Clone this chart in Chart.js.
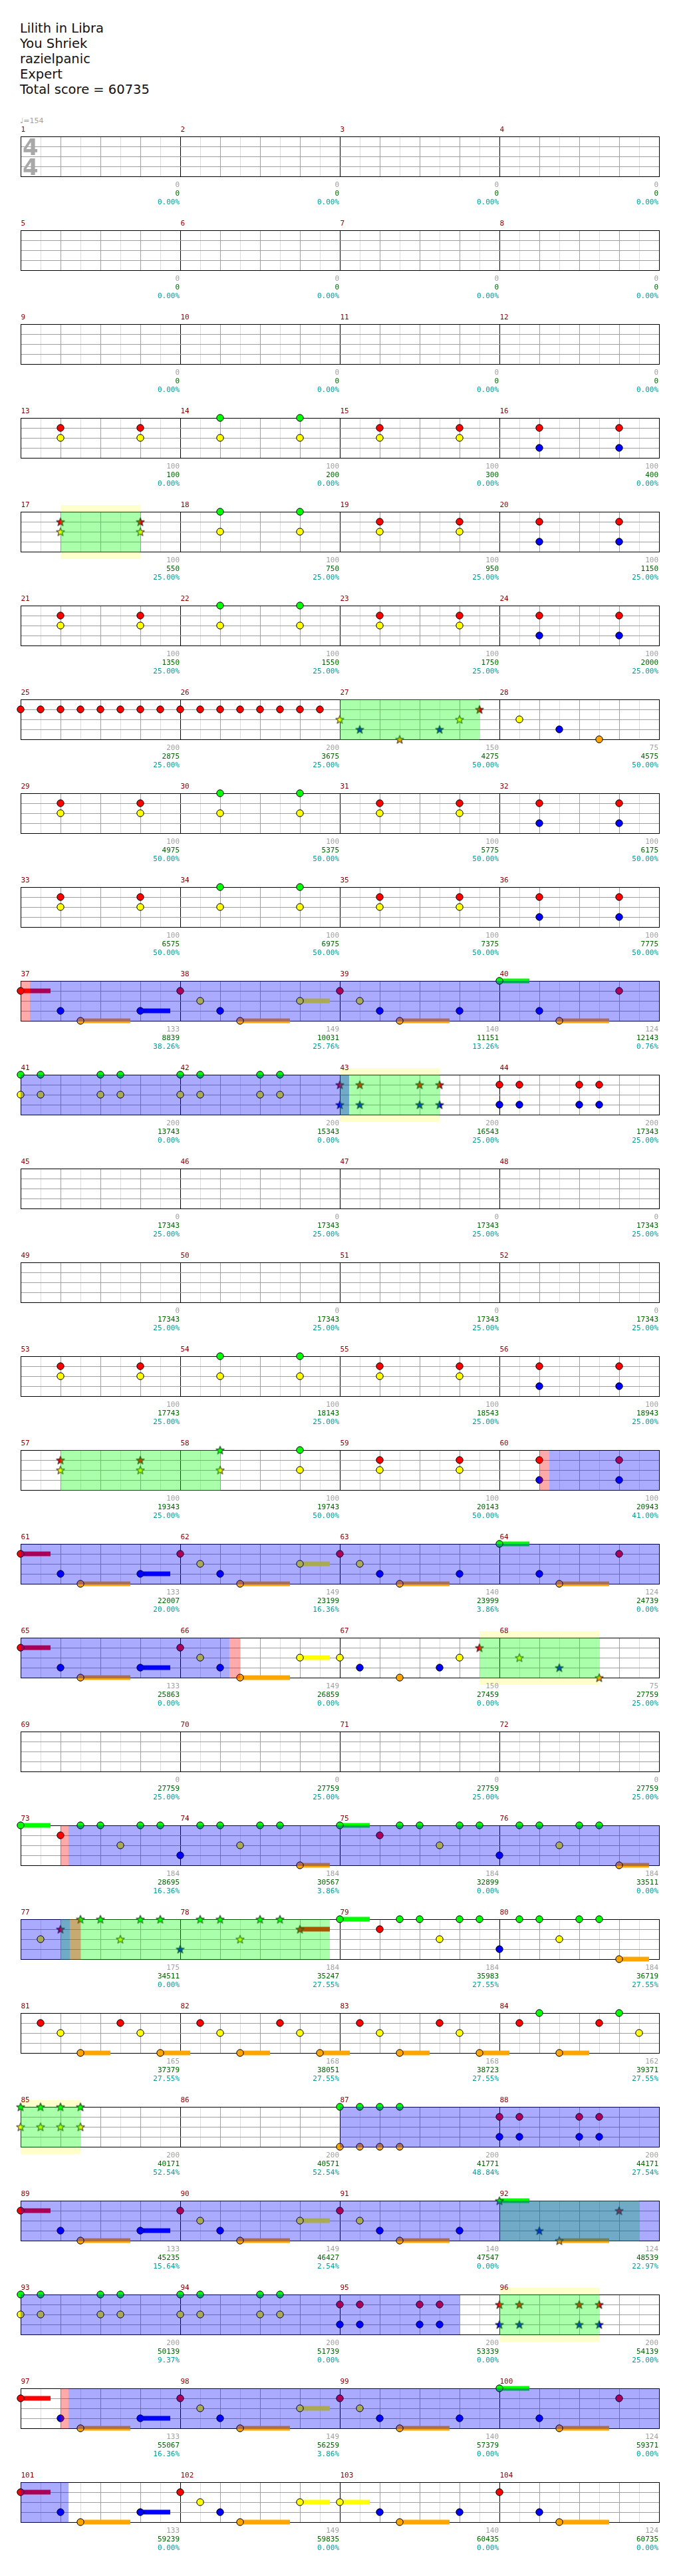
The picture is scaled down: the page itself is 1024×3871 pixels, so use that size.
<!DOCTYPE html>
<html>
<head>
<meta charset="utf-8">
<script src="https://cdn.jsdelivr.net/npm/chart.js@4.4.0/dist/chart.umd.min.js"></script>
<style>
  body { margin: 0; background: #fff; }
  #page { position: relative; width: 1024px; height: 3871px; overflow: hidden; }
  .title { position: absolute; left: 30px; top: 31px; font: 19.5px "DejaVu Sans", sans-serif; line-height: 23px; color: #111; white-space: pre; }
  .tempo { position: absolute; left: 30px; top: 175px; font: 11px "DejaVu Sans", sans-serif; color: #a0a0a0; }
  canvas.row { position: absolute; left: 0; }
</style>
</head>
<body>
<div id="page">
  <div class="title" id="title"></div>
  <div class="tempo">&#9833;=154</div>
</div>
<script>
const songInfo = ["Lilith in Libra", "You Shriek", "razielpanic", "Expert", "Total score = 60735"];

// chords: [measure, beat in measure, lanes, sustain length in beats]
const notes = [
  [13,1,"RY"],[13,3,"RY"],[14,1,"GY"],[14,3,"GY"],[15,1,"RY"],[15,3,"RY"],[16,1,"RB"],[16,3,"RB"],
  [17,1,"RY"],[17,3,"RY"],[18,1,"GY"],[18,3,"GY"],[19,1,"RY"],[19,3,"RY"],[20,1,"RB"],[20,3,"RB"],
  [21,1,"RY"],[21,3,"RY"],[22,1,"GY"],[22,3,"GY"],[23,1,"RY"],[23,3,"RY"],[24,1,"RB"],[24,3,"RB"],
  [25,0,"R"],[25,0.5,"R"],[25,1,"R"],[25,1.5,"R"],[25,2,"R"],[25,2.5,"R"],[25,3,"R"],[25,3.5,"R"],
  [26,0,"R"],[26,0.5,"R"],[26,1,"R"],[26,1.5,"R"],[26,2,"R"],[26,2.5,"R"],[26,3,"R"],[26,3.5,"R"],
  [27,0,"Y"],[27,0.5,"B"],[27,1.5,"O"],[27,2.5,"B"],[27,3,"Y"],[27,3.5,"R"],
  [28,0.5,"Y"],[28,1.5,"B"],[28,2.5,"O"],
  [29,1,"RY"],[29,3,"RY"],[30,1,"GY"],[30,3,"GY"],[31,1,"RY"],[31,3,"RY"],[32,1,"RB"],[32,3,"RB"],
  [33,1,"RY"],[33,3,"RY"],[34,1,"GY"],[34,3,"GY"],[35,1,"RY"],[35,3,"RY"],[36,1,"RB"],[36,3,"RB"],
  [37,0,"R",0.75],[37,1,"B"],[37,1.5,"O",1.25],[37,3,"B",0.75],
  [38,0,"R"],[38,0.5,"Y"],[38,1,"B"],[38,1.5,"O",1.25],[38,3,"Y",0.75],
  [39,0,"R"],[39,0.5,"Y"],[39,1,"B"],[39,1.5,"O",1.25],[39,3,"B"],
  [40,0,"G",0.75],[40,1,"B"],[40,1.5,"O",1.25],[40,3,"R"],
  [41,0,"GY"],[41,0.5,"GY"],[41,2,"GY"],[41,2.5,"GY"],[42,0,"GY"],[42,0.5,"GY"],[42,2,"GY"],[42,2.5,"GY"],
  [43,0,"RB"],[43,0.5,"RB"],[43,2,"RB"],[43,2.5,"RB"],[44,0,"RB"],[44,0.5,"RB"],[44,2,"RB"],[44,2.5,"RB"],
  [53,1,"RY"],[53,3,"RY"],[54,1,"GY"],[54,3,"GY"],[55,1,"RY"],[55,3,"RY"],[56,1,"RB"],[56,3,"RB"],
  [57,1,"RY"],[57,3,"RY"],[58,1,"GY"],[58,3,"GY"],[59,1,"RY"],[59,3,"RY"],[60,1,"RB"],[60,3,"RB"],
  [61,0,"R",0.75],[61,1,"B"],[61,1.5,"O",1.25],[61,3,"B",0.75],
  [62,0,"R"],[62,0.5,"Y"],[62,1,"B"],[62,1.5,"O",1.25],[62,3,"Y",0.75],
  [63,0,"R"],[63,0.5,"Y"],[63,1,"B"],[63,1.5,"O",1.25],[63,3,"B"],
  [64,0,"G",0.75],[64,1,"B"],[64,1.5,"O",1.25],[64,3,"R"],
  [65,0,"R",0.75],[65,1,"B"],[65,1.5,"O",1.25],[65,3,"B",0.75],
  [66,0,"R"],[66,0.5,"Y"],[66,1,"B"],[66,1.5,"O",1.25],[66,3,"Y",0.75],
  [67,0,"Y"],[67,0.5,"B"],[67,1.5,"O"],[67,2.5,"B"],[67,3,"Y"],[67,3.5,"R"],
  [68,0.5,"Y"],[68,1.5,"B"],[68,2.5,"O"],
  [73,0,"G",0.75],[73,1,"R"],[73,1.5,"G"],[73,2,"G"],[73,2.5,"Y"],[73,3,"G"],[73,3.5,"G"],
  [74,0,"B"],[74,0.5,"G"],[74,1,"G"],[74,1.5,"Y"],[74,2,"G"],[74,2.5,"G"],[74,3,"O",0.75],
  [75,0,"G",0.75],[75,1,"R"],[75,1.5,"G"],[75,2,"G"],[75,2.5,"Y"],[75,3,"G"],[75,3.5,"G"],
  [76,0,"B"],[76,0.5,"G"],[76,1,"G"],[76,1.5,"Y"],[76,2,"G"],[76,2.5,"G"],[76,3,"O",0.75],
  [77,0.5,"Y"],[77,1,"R"],[77,1.5,"G"],[77,2,"G"],[77,2.5,"Y"],[77,3,"G"],[77,3.5,"G"],
  [78,0,"B"],[78,0.5,"G"],[78,1,"G"],[78,1.5,"Y"],[78,2,"G"],[78,2.5,"G"],[78,3,"R",0.75],
  [79,0,"G",0.75],[79,1,"R"],[79,1.5,"G"],[79,2,"G"],[79,2.5,"Y"],[79,3,"G"],[79,3.5,"G"],
  [80,0,"B"],[80,0.5,"G"],[80,1,"G"],[80,1.5,"Y"],[80,2,"G"],[80,2.5,"G"],[80,3,"O",0.75],
  [81,0.5,"R"],[81,1,"Y"],[81,1.5,"O",0.75],[81,2.5,"R"],[81,3,"Y"],[81,3.5,"O",0.75],
  [82,0.5,"R"],[82,1,"Y"],[82,1.5,"O",0.75],[82,2.5,"R"],[82,3,"Y"],[82,3.5,"O",0.75],
  [83,0.5,"R"],[83,1,"Y"],[83,1.5,"O",0.75],[83,2.5,"R"],[83,3,"Y"],[83,3.5,"O",0.75],
  [84,0.5,"R"],[84,1,"G"],[84,1.5,"O",0.75],[84,2.5,"R"],[84,3,"G"],[84,3.5,"Y"],
  [85,0,"GY"],[85,0.5,"GY"],[85,1,"GY"],[85,1.5,"GY"],
  [87,0,"GO"],[87,0.5,"GO"],[87,1,"GO"],[87,1.5,"GO"],[88,0,"RB"],[88,0.5,"RB"],[88,2,"RB"],[88,2.5,"RB"],
  [89,0,"R",0.75],[89,1,"B"],[89,1.5,"O",1.25],[89,3,"B",0.75],
  [90,0,"R"],[90,0.5,"Y"],[90,1,"B"],[90,1.5,"O",1.25],[90,3,"Y",0.75],
  [91,0,"R"],[91,0.5,"Y"],[91,1,"B"],[91,1.5,"O",1.25],[91,3,"B"],
  [92,0,"G",0.75],[92,1,"B"],[92,1.5,"O",1.25],[92,3,"R"],
  [93,0,"GY"],[93,0.5,"GY"],[93,2,"GY"],[93,2.5,"GY"],[94,0,"GY"],[94,0.5,"GY"],[94,2,"GY"],[94,2.5,"GY"],
  [95,0,"RB"],[95,0.5,"RB"],[95,2,"RB"],[95,2.5,"RB"],[96,0,"RB"],[96,0.5,"RB"],[96,2,"RB"],[96,2.5,"RB"],
  [97,0,"R",0.75],[97,1,"B"],[97,1.5,"O",1.25],[97,3,"B",0.75],
  [98,0,"R"],[98,0.5,"Y"],[98,1,"B"],[98,1.5,"O",1.25],[98,3,"Y",0.75],
  [99,0,"R"],[99,0.5,"Y"],[99,1,"B"],[99,1.5,"O",1.25],[99,3,"B"],
  [100,0,"G",0.75],[100,1,"B"],[100,1.5,"O",1.25],[100,3,"R"],
  [101,0,"R",0.75],[101,1,"B"],[101,1.5,"O",1.25],[101,3,"B",0.75],
  [102,0,"R"],[102,0.5,"Y"],[102,1,"B"],[102,1.5,"O",1.25],[102,3,"Y",0.75],
  [103,0,"Y",0.75],[103,1,"B"],[103,1.5,"O",1.25],[103,3,"B"],
  [104,0,"R"],[104,1,"B"],[104,1.5,"O",1.25]
];

// ranges: [start measure, start beat, end measure, end beat]
const starPhrases = [[17,1,17,3],[27,0,27,3.5],[43,0,43,2.5],[57,1,58,1],[67,3.5,68,2.5],[77,1,78,3.75],[85,0,85,1.5],[92,0,92,3.5],[96,0,96,2.5]];
const soloRanges = [[17,1,17,3],[43,0,43,2.5],[67,3.5,68,2.5],[85,0,85,1.5],[96,0,96,2.5]];
const activations = [[37,0.233,43,0.233],[60,1.25,66,1.233],[73,1.2,77,1.233],[87,0,95,3],[97,1.2,101,1.2]];
const squeezes = [[37,0,37,0.233],[60,1,60,1.25],[66,1.233,66,1.5],[73,1,73,1.2],[77,1.233,77,1.5],[97,1,97,1.2]];

const measureScores = [
  0,0,0,0, 0,0,0,0, 0,0,0,0,
  100,100,100,100, 100,100,100,100, 100,100,100,100, 200,200,150,75,
  100,100,100,100, 100,100,100,100, 133,149,140,124, 200,200,200,200,
  0,0,0,0, 0,0,0,0, 100,100,100,100, 100,100,100,100,
  133,149,140,124, 133,149,150,75, 0,0,0,0, 184,184,184,184,
  175,184,184,184, 165,168,168,162, 200,200,200,200, 133,149,140,124,
  200,200,200,200, 133,149,140,124, 133,149,140,124
];
const totalScores = [
  0,0,0,0, 0,0,0,0, 0,0,0,0,
  100,200,300,400, 550,750,950,1150, 1350,1550,1750,2000, 2875,3675,4275,4575,
  4975,5375,5775,6175, 6575,6975,7375,7775, 8839,10031,11151,12143, 13743,15343,16543,17343,
  17343,17343,17343,17343, 17343,17343,17343,17343, 17743,18143,18543,18943, 19343,19743,20143,20943,
  22007,23199,23999,24739, 25863,26859,27459,27759, 27759,27759,27759,27759, 28695,30567,32899,33511,
  34511,35247,35983,36719, 37379,38051,38723,39371, 40171,40571,41771,44171, 45235,46427,47547,48539,
  50139,51739,53339,54139, 55067,56259,57379,59371, 59239,59835,60435,60735
];
const spMeter = [
  0,0,0,0, 0,0,0,0, 0,0,0,0,
  0,0,0,0, 25,25,25,25, 25,25,25,25, 25,25,50,50,
  50,50,50,50, 50,50,50,50, 38.26,25.76,13.26,0.76, 0,0,25,25,
  25,25,25,25, 25,25,25,25, 25,25,25,25, 25,50,50,41,
  20,16.36,3.86,0, 0,0,0,25, 25,25,25,25, 16.36,3.86,0,0,
  0,27.55,27.55,27.55, 27.55,27.55,27.55,27.55, 52.54,52.54,48.84,27.54, 15.64,2.54,0,22.97,
  9.37,0,0,25, 16.36,3.86,0,0, 0,0,0,0
];

const laneIndex = { G: 0, R: 1, Y: 2, B: 3, O: 4 };
const laneColor = { G: "#00ff00", R: "#ff0000", Y: "#ffff00", B: "#0000ff", O: "#ffa500" };
const ROW_H = 141, STAFF_TOP = 30, STAFF_H = 60;

document.getElementById("title").textContent = songInfo.join("\n");

function absBeat(m, b) { return (m - 1) * 4 + b; }

function rangesInRow(list, row) {
  const lo = row * 16, hi = lo + 16, out = [];
  list.forEach(([m1, b1, m2, b2]) => {
    const s = Math.max(absBeat(m1, b1), lo), e = Math.min(absBeat(m2, b2), hi);
    if (e > s) out.push([s - lo, e - lo]);
  });
  return out;
}

function isStar(a) {
  return starPhrases.some(([m1, b1, m2, b2]) => a >= absBeat(m1, b1) - 0.01 && a <= absBeat(m2, b2) + 0.01);
}

const starCache = {};
function starImage(fill) {
  if (starCache[fill]) return starCache[fill];
  const c = document.createElement("canvas");
  c.width = 15; c.height = 15;
  const g = c.getContext("2d");
  g.beginPath();
  for (let i = 0; i < 10; i++) {
    const r = i % 2 ? 2.7 : 6.6;
    const a = -Math.PI / 2 + i * Math.PI / 5;
    g.lineTo(7.5 + r * Math.cos(a), 8.2 + r * Math.sin(a));
  }
  g.closePath();
  g.fillStyle = fill;
  g.fill();
  g.strokeStyle = "#111";
  g.lineWidth = 1;
  g.stroke();
  starCache[fill] = c;
  return c;
}

const rowDecor = {
  id: "rowDecor",
  beforeDraw(chart, args, opts) {
    const { ctx, chartArea: ca, scales: { x } } = chart;
    ctx.save();
    ctx.fillStyle = "rgba(255,255,0,0.2)";
    rangesInRow(soloRanges, opts.row).forEach(([s, e]) => {
      ctx.fillRect(x.getPixelForValue(s), ca.top - 10, x.getPixelForValue(e) - x.getPixelForValue(s), ca.bottom - ca.top + 21);
    });
    ctx.fillStyle = "#fff";
    ctx.fillRect(ca.left, ca.top, ca.right - ca.left, ca.bottom - ca.top);
    ctx.restore();
  },
  beforeDatasetsDraw(chart, args, opts) {
    if (opts.row !== 0) return;
    const { ctx, chartArea: ca } = chart;
    ctx.save();
    ctx.fillStyle = "#a8a8a8";
    ctx.font = "bold 34px 'DejaVu Sans'";
    ctx.fillText("4", ca.left + 3, ca.top + 28);
    ctx.fillText("4", ca.left + 3, ca.top + 58);
    ctx.restore();
  },
  afterDatasetsDraw(chart, args, opts) {
    const { ctx, chartArea: ca, scales: { x } } = chart;
    ctx.save();
    const layers = [[starPhrases, "rgba(0,255,0,0.333)"], [squeezes, "rgba(255,0,0,0.333)"], [activations, "rgba(0,0,255,0.333)"]];
    layers.forEach(([list, color]) => {
      ctx.fillStyle = color;
      rangesInRow(list, opts.row).forEach(([s, e]) => {
        const x1 = x.getPixelForValue(s), x2 = x.getPixelForValue(e);
        ctx.fillRect(x1, ca.top, x2 - x1, ca.bottom - ca.top + 1);
      });
    });
    ctx.restore();
  },
  afterDraw(chart, args, opts) {
    const { ctx, chartArea: ca, scales: { x } } = chart;
    ctx.save();
    ctx.font = "11px 'DejaVu Sans Mono'";
    for (let i = 0; i < 4; i++) {
      const m = opts.row * 4 + i;
      const x0 = x.getPixelForValue(i * 4), x1 = x.getPixelForValue(i * 4 + 4);
      ctx.textAlign = "left";
      ctx.fillStyle = "#8b0000";
      ctx.fillText(String(m + 1), x0 + 0.5, ca.top - 7);
      ctx.textAlign = "right";
      ctx.fillStyle = "#a0a0a0";
      ctx.fillText(String(measureScores[m]), x1 - 1, ca.bottom + 16);
      ctx.fillStyle = "#006400";
      ctx.fillText(String(totalScores[m]), x1 - 1, ca.bottom + 29);
      ctx.fillStyle = "#009c9c";
      ctx.fillText(spMeter[m].toFixed(2) + "%", x1 - 1, ca.bottom + 42);
    }
    ctx.restore();
  }
};

function buildRow(row) {
  const groups = {};
  const sustains = [];
  notes.filter(n => Math.floor((n[0] - 1) / 4) === row).forEach(([m, b, lanes, sus]) => {
    const xv = ((m - 1) % 4) * 4 + b;
    const star = isStar(absBeat(m, b));
    for (const l of lanes) {
      const key = l + (star ? "*" : "");
      (groups[key] = groups[key] || []).push({ x: xv, y: laneIndex[l] });
      if (sus) sustains.push({ lane: l, x1: xv, x2: xv + sus });
    }
  });
  const datasets = [];
  Object.keys(groups).forEach(key => {
    const lane = key[0], star = key.length > 1;
    datasets.push({
      data: groups[key],
      pointStyle: star ? starImage(laneColor[lane]) : "circle",
      pointRadius: 5.2,
      pointBackgroundColor: laneColor[lane],
      pointBorderColor: "#000",
      pointBorderWidth: 1,
      order: 0,
      clip: false
    });
  });
  sustains.forEach(s => {
    datasets.push({
      data: [{ x: s.x1, y: laneIndex[s.lane] }, { x: Math.min(s.x2, 16), y: laneIndex[s.lane] }],
      showLine: true,
      borderColor: laneColor[s.lane],
      borderWidth: 7,
      borderCapStyle: "butt",
      pointRadius: 0,
      order: 1,
      clip: false
    });
  });
  return datasets;
}

const page = document.getElementById("page");
const rowCount = Math.ceil(measureScores.length / 4);
for (let row = 0; row < rowCount; row++) {
  const canvas = document.createElement("canvas");
  canvas.className = "row";
  canvas.width = 1024;
  canvas.height = ROW_H;
  canvas.style.top = (205 - STAFF_TOP + row * ROW_H) + "px";
  page.appendChild(canvas);
  new Chart(canvas.getContext("2d"), {
    type: "scatter",
    data: { datasets: buildRow(row) },
    options: {
      responsive: false,
      animation: false,
      events: [],
      layout: { padding: { left: 31, right: 33, top: STAFF_TOP, bottom: ROW_H - STAFF_TOP - STAFF_H } },
      plugins: { legend: { display: false }, tooltip: { enabled: false }, rowDecor: { row } },
      scales: {
        x: {
          type: "linear", min: 0, max: 16,
          ticks: { display: false, stepSize: 0.5, autoSkip: false, maxTicksLimit: 40 },
          grid: {
            drawTicks: false, lineWidth: 1,
            color: c => c.tick.value % 4 === 0 ? "#000" : (c.tick.value % 1 === 0 ? "#a0a0a0" : "#dcdcdc")
          },
          border: { display: true, color: "#000" }
        },
        y: {
          type: "linear", min: 0, max: 4, reverse: true,
          ticks: { display: false, stepSize: 1 },
          grid: { drawTicks: false, lineWidth: 1, color: c => (c.tick.value === 0 || c.tick.value === 4) ? "#000" : "#a0a0a0" },
          border: { display: true, color: "#000" }
        }
      }
    },
    plugins: [rowDecor]
  });
}
</script>
</body>
</html>
